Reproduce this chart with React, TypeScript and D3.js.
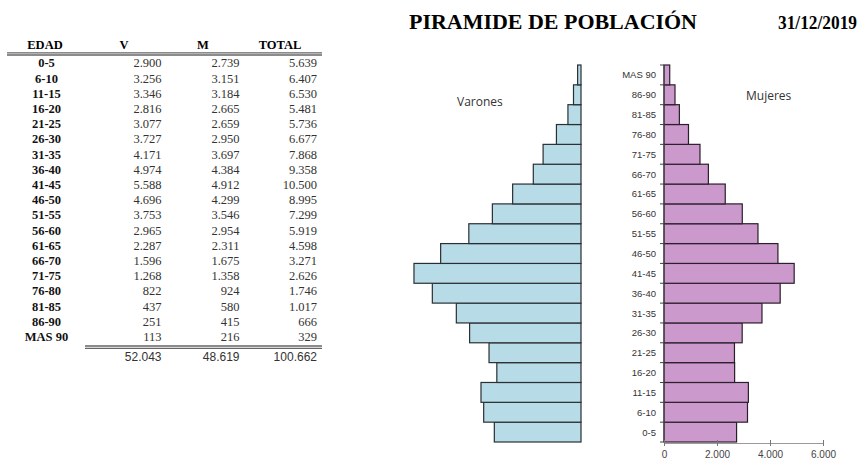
import { useEffect, useRef } from "react";
import * as d3 from "d3";

// age groups, youngest first (same order as the table)
const ageGroups = ["0-5", "6-10", "11-15", "16-20", "21-25", "26-30", "31-35", "36-40", "41-45", "46-50", "51-55", "56-60", "61-65", "66-70", "71-75", "76-80", "81-85", "86-90", "MAS 90"];
const males = [2900, 3256, 3346, 2816, 3077, 3727, 4171, 4974, 5588, 4696, 3753, 2965, 2287, 1596, 1268, 822, 437, 251, 113];
const females = [2739, 3151, 3184, 2665, 2659, 2950, 3697, 4384, 4912, 4299, 3546, 2954, 2311, 1675, 1358, 924, 580, 415, 216];
const totals = [5639, 6407, 6530, 5481, 5736, 6677, 7868, 9358, 10500, 8995, 7299, 5919, 4598, 3271, 2626, 1746, 1017, 666, 329];
const sums = [52043, 48619, 100662];
const xTicks = [0, 2000, 4000, 6000];

const W = 865;
const H = 459;
const serif = "'Liberation Serif', 'Times New Roman', serif";
const sans = "'Liberation Sans', Arial, sans-serif";

const fmt = (v: number) => {
  const s = String(v);
  return s.length > 3 ? s.slice(0, s.length - 3) + "." + s.slice(-3) : s;
};

export default function App() {
  const axisRef = useRef<SVGGElement>(null);

  // pyramid scales
  const yBar = d3.scaleBand<string>()
    .domain([...ageGroups].reverse())
    .range([65, 442])
    .padding(0);
  const xMale = d3.scaleLinear().domain([0, 6000]).range([581, 581 - 6000 * 0.02989]);
  const xFemale = d3.scaleLinear().domain([0, 6000]).range([664, 823]);

  // table rows
  const yRow = d3.scaleBand<string>()
    .domain(ageGroups)
    .range([55.4, 55.4 + ageGroups.length * 15.2]);

  useEffect(() => {
    const g = d3.select(axisRef.current);
    g.html(null);
    g.call(
      d3.axisBottom(xFemale)
        .tickValues(xTicks)
        .tickSize(3)
        .tickFormat(d => fmt(d as number))
    );
    g.select(".domain").attr("stroke", "#9a9a9a").attr("stroke-width", 1);
    g.selectAll(".tick line").attr("stroke", "#777").attr("y1", -3).attr("y2", 3);
    g.selectAll(".tick text")
      .attr("fill", "#444")
      .attr("font-family", sans)
      .attr("font-size", 10)
      .attr("dy", 0)
      .attr("y", 15);
  }, []);

  const bw = yBar.bandwidth();

  return (
    <svg width={W} height={H} style={{ position: "absolute", left: 0, top: 0, background: "#fff" }}>
      {/* table */}
      <g fontFamily={serif}>
        <text x={45} y={49} textAnchor="middle" fontWeight="bold" fontSize={12.5}>EDAD</text>
        <text x={124} y={49} textAnchor="middle" fontWeight="bold" fontSize={12.5}>V</text>
        <text x={203} y={49} textAnchor="middle" fontWeight="bold" fontSize={12.5}>M</text>
        <text x={280} y={49} textAnchor="middle" fontWeight="bold" fontSize={12.5}>TOTAL</text>
        <line x1={7} x2={322} y1={52.8} y2={52.8} stroke="#666" strokeWidth={1.3} />
        <line x1={7} x2={322} y1={55} y2={55} stroke="#666" strokeWidth={1.3} />
        {ageGroups.map((a, i) => {
          const y = (yRow(a) as number) + yRow.bandwidth() / 2 + 4.3;
          return (
            <g key={a}>
              <text x={46.5} y={y} textAnchor="middle" fontWeight="bold" fontSize={12.5} fill="#111">{a}</text>
              <text x={161.5} y={y} textAnchor="end" fontSize={12.5} fill="#333">{fmt(males[i])}</text>
              <text x={239.5} y={y} textAnchor="end" fontSize={12.5} fill="#333">{fmt(females[i])}</text>
              <text x={317} y={y} textAnchor="end" fontSize={12.5} fill="#333">{fmt(totals[i])}</text>
            </g>
          );
        })}
        <line x1={85} x2={322} y1={346} y2={346} stroke="#666" strokeWidth={1.3} />
        <line x1={85} x2={322} y1={348.3} y2={348.3} stroke="#666" strokeWidth={1.3} />
        {[161.5, 239.5, 317].map((x, i) => (
          <text key={x} x={x} y={361} textAnchor="end" fontFamily={sans} fontSize={12} fill="#333">{fmt(sums[i])}</text>
        ))}
      </g>

      {/* title */}
      <text x={409} y={29} fontFamily={serif} fontWeight="bold" fontSize={20} textLength={288} lengthAdjust="spacingAndGlyphs">PIRAMIDE DE POBLACIÓN</text>
      <text x={778} y={29} fontFamily={serif} fontWeight="bold" fontSize={19} textLength={79} lengthAdjust="spacingAndGlyphs">31/12/2019</text>

      {/* males */}
      {ageGroups.map((a, i) => (
        <rect
          key={"m" + a}
          x={xMale(males[i])}
          y={yBar(a) as number}
          width={xMale(0) - xMale(males[i])}
          height={bw}
          fill="#b7dce7"
          stroke="#2a2f33"
          strokeWidth={1.2}
        />
      ))}
      <text x={457} y={106} fontFamily="'Open Sans', sans-serif" fontSize={12} fill="#333">Varones</text>

      {/* females */}
      {ageGroups.map((a, i) => (
        <rect
          key={"f" + a}
          x={xFemale(0)}
          y={yBar(a) as number}
          width={xFemale(females[i]) - xFemale(0)}
          height={bw}
          fill="#cc99cc"
          stroke="#2a1f2a"
          strokeWidth={1.2}
        />
      ))}
      <line x1={xFemale(0)} x2={xFemale(0)} y1={65} y2={442} stroke="#444" strokeWidth={1} />
      {yBar.domain().concat("end").map((a, i) => {
        const y = 65 + i * bw;
        return <line key={"t" + a} x1={xFemale(0) - 4} x2={xFemale(0)} y1={y} y2={y} stroke="#444" strokeWidth={1} />;
      })}
      {ageGroups.map(a => (
        <text
          key={"l" + a}
          x={656}
          y={(yBar(a) as number) + bw / 2 + 3.5}
          textAnchor="end"
          fontFamily={sans}
          fontSize={9.5}
          fill="#333"
        >
          {a}
        </text>
      ))}
      <text x={746} y={100} fontFamily="'Open Sans', sans-serif" fontSize={12} fill="#333">Mujeres</text>
      <g ref={axisRef} transform="translate(0,443)" />
    </svg>
  );
}
